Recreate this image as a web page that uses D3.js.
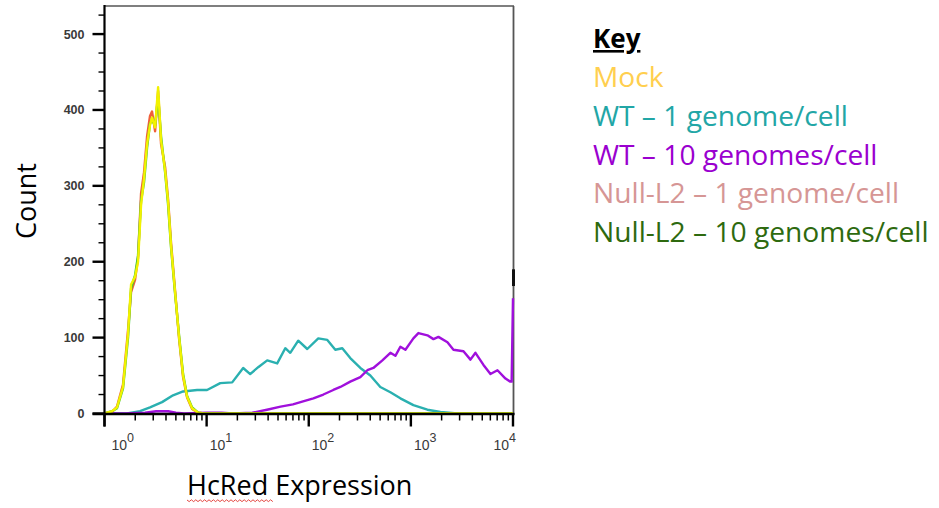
<!DOCTYPE html>
<html>
<head>
<meta charset="utf-8">
<script src="https://cdn.jsdelivr.net/npm/d3@7/dist/d3.min.js"></script>
<style>
  html, body { margin: 0; padding: 0; background: #fff; }
  svg { display: block; }
</style>
</head>
<body>
<svg id="chart" width="939" height="508"></svg>
<script>
// ---------- data ----------
const xTickExponents = [0, 1, 2, 3, 4];
const yTickValues = [0, 100, 200, 300, 400, 500];

const legendTitle = "Key";
const seriesNames = ["Mock", "WT \u2013 1 genome/cell", "WT \u2013 10 genomes/cell",
                     "Null-L2 \u2013 1 genome/cell", "Null-L2 \u2013 10 genomes/cell"];
const legendColors = ["#FFCF4F", "#22A6A6", "#9A00CF", "#D69695", "#2E6A0F"];
const lineColors   = ["#F2F200", "#2AB0B0", "#A010DC", "#F0603A", "#3CC43C"];

const mock = [[1,0],[1.184,3],[1.326,8],[1.518,35],[1.70,105],[1.82,170],[1.99,180],[2.13,200],
  [2.28,275],[2.44,310],[2.61,355],[2.79,380],[2.92,390],[3.13,377],[3.35,430],[3.58,360],
  [3.92,320],[4.19,280],[4.49,220],[4.91,160],[5.38,100],[5.88,50],[6.44,22],[7.21,7],
  [8.26,1],[9.45,0],[10000,0]];

const wt1 = [[1,0],[1.66,0],[2.23,3],[2.79,8],[3.66,15],[4.69,24],[5.88,29],[8.07,31],[10.1,31],
  [13.6,40],[17.8,41],[22.8,60],[26.7,52],[32,61],[39.2,70],[49.1,66],[58.9,86],[65.9,80],
  [78.9,96],[96.7,85],[124,99],[152,97],[182,84],[213,86],[255,73],[320,60],[401,50],
  [502,35],[630,28],[789,20],[1058,11],[1452,5],[1947,2],[2856,0],[10000,0]];

const wt10 = [[1,0],[1.6,0],[2.5,1],[3.2,3],[4.2,3],[5,1],[6,0],[10,1],[14,1],[18,0],[28,1],
  [39,5],[53,9],[70,12],[88,16],[111,20],[139,25],[174,31],[204,35],[255,42],[320,48],
  [375,57],[429,60],[526,70],[630,80],[705,76],[789,88],[884,84],[1058,99],[1185,106],
  [1452,103],[1663,98],[1862,101],[2281,94],[2612,84],[3273,82],[3832,71],[4290,80],
  [5139,64],[6016,52],[7045,57],[8440,46],[9400,42],[9700,42],[10000,152]];

const nullL2_1 = [[1,0],[1.184,2],[1.326,9],[1.518,38],[1.70,110],[1.82,160],[1.99,176],[2.13,205],
  [2.28,290],[2.44,318],[2.61,365],[2.79,392],[2.92,398],[3.13,372],[3.35,425],[3.58,355],
  [3.92,325],[4.19,283],[4.49,224],[4.91,162],[5.38,98],[5.88,48],[6.44,21],[7.21,6],
  [8.26,1],[9.45,0],[10000,0]];

const nullL2_10 = [[1,0],[1.184,3],[1.326,7],[1.518,33],[1.70,100],[1.82,165],[1.99,182],[2.13,208],
  [2.28,280],[2.44,305],[2.61,350],[2.79,382],[2.92,386],[3.13,380],[3.35,418],[3.58,365],
  [3.92,318],[4.19,276],[4.49,218],[4.91,158],[5.38,102],[5.88,52],[6.44,23],[7.21,8],
  [8.26,1],[9.45,0],[10000,0]];

// draw order: bottom to top
const drawOrder = [
  {data: wt1, color: lineColors[1]},
  {data: wt10, color: lineColors[2]},
  {data: nullL2_1, color: lineColors[3]},
  {data: nullL2_10, color: lineColors[4]},
  {data: mock, color: lineColors[0]}
];

// ---------- layout ----------
const svg = d3.select("#chart");
const pLeft = 104.5, pRight = 513, pTop = 6, pBottom = 413.5;

const x = d3.scaleLog().domain([1, 10000]).range([pLeft, pRight]);
const y = d3.scaleLinear().domain([0, 537]).range([pBottom, pTop]);

// frame (top and right, gray)
svg.append("line").attr("x1", pLeft).attr("x2", pRight + 1).attr("y1", pTop).attr("y2", pTop)
  .attr("stroke", "#555").attr("stroke-width", 1.6);
svg.append("line").attr("x1", pRight + 0.5).attr("x2", pRight + 0.5).attr("y1", pTop).attr("y2", pBottom + 1)
  .attr("stroke", "#555").attr("stroke-width", 1.8);
svg.append("rect").attr("x", pRight - 1).attr("y", y(190)).attr("width", 3).attr("height", y(168) - y(190))
  .attr("fill", "#111");

// curves
const line = d3.line().x(d => x(d[0])).y(d => y(d[1])).curve(d3.curveLinear);
const g = svg.append("g");
drawOrder.forEach(s => {
  g.append("path").attr("d", line(s.data)).attr("fill", "none")
    .attr("stroke", s.color).attr("stroke-width", 2.4).attr("stroke-linejoin", "round");
});

// y axis
const yMinor = d3.range(0, 526, 25);
const yAxis = svg.append("g");
yAxis.append("line").attr("x1", pLeft).attr("x2", pLeft).attr("y1", pTop - 1).attr("y2", pBottom + 13)
  .attr("stroke", "#000").attr("stroke-width", 2.2);
yMinor.forEach(v => {
  const major = v % 100 === 0;
  yAxis.append("line").attr("x1", pLeft - (major ? 12 : 6)).attr("x2", pLeft)
    .attr("y1", y(v)).attr("y2", y(v)).attr("stroke", "#000").attr("stroke-width", major ? 2.4 : 1.4);
});
yTickValues.forEach(v => {
  yAxis.append("text").attr("x", pLeft - 20).attr("y", y(v) + 4.5).attr("text-anchor", "end")
    .attr("font-family", "Liberation Sans, Arial, sans-serif").attr("font-size", 12.5)
    .attr("font-weight", "bold").attr("fill", "#3a3a3a").text(v);
});

// x axis
const xAxis = svg.append("g");
xAxis.append("line").attr("x1", pLeft - 12).attr("x2", pRight + 1.5).attr("y1", pBottom + 0.5).attr("y2", pBottom + 0.5)
  .attr("stroke", "#000").attr("stroke-width", 2.4);
const xMinor = [];
for (let e = 0; e < 4; e++) for (let m = 2; m <= 9; m++) xMinor.push(m * Math.pow(10, e));
xMinor.forEach(v => {
  xAxis.append("line").attr("x1", x(v)).attr("x2", x(v)).attr("y1", pBottom).attr("y2", pBottom + 7)
    .attr("stroke", "#000").attr("stroke-width", 1.5);
});
xTickExponents.forEach(e => {
  const v = Math.pow(10, e);
  xAxis.append("line").attr("x1", x(v)).attr("x2", x(v)).attr("y1", pBottom).attr("y2", pBottom + 13)
    .attr("stroke", "#000").attr("stroke-width", 2.4);
});
xTickExponents.forEach((e, i) => {
  const v = Math.pow(10, e);
  const last = i === xTickExponents.length - 1;
  const t = xAxis.append("text")
    .attr("x", last ? x(v) + 3 : x(v) + (i === 0 ? 7 : 3))
    .attr("y", 450).attr("text-anchor", last ? "end" : "start")
    .attr("font-family", "Liberation Sans, Arial, sans-serif").attr("font-size", 14)
    .attr("fill", "#3a3a3a");
  t.append("tspan").text("10");
  t.append("tspan").attr("dy", -8).attr("font-size", 12.5).text(e);
});

// axis titles
svg.append("text").attr("transform", "translate(36,201) rotate(-90)").attr("text-anchor", "middle")
  .attr("font-family", "Open Sans, sans-serif").attr("font-size", 27).attr("fill", "#000").text("Count");
svg.append("text").attr("x", 187).attr("y", 495).attr("text-anchor", "start")
  .attr("font-family", "Open Sans, sans-serif").attr("font-size", 27).attr("fill", "#000").text("HcRed Expression");

// spell-check style squiggle under "HcRed"
(function(){
  const x0 = 187, x1 = 274, yy = 500, step = 2.2;
  let d = `M${x0},${yy}`;
  let k = 0;
  for (let xx = x0 + step; xx <= x1; xx += step, k++) d += `L${xx},${yy + (k % 2 === 0 ? 1.6 : -0.2)}`;
  svg.append("path").attr("d", d).attr("fill", "none").attr("stroke", "#E0302A").attr("stroke-width", 0.9);
})();

// legend
const lx = 593;
svg.append("text").attr("x", lx).attr("y", 48).attr("font-family", "Open Sans, sans-serif")
  .attr("font-size", 26).attr("font-weight", "bold").attr("fill", "#000")
  .attr("text-decoration", "underline").text(legendTitle);
seriesNames.forEach((name, i) => {
  svg.append("text").attr("x", lx).attr("y", 87 + i * 38.8).attr("font-family", "Open Sans, sans-serif")
    .attr("font-size", 28.2).attr("fill", legendColors[i]).text(name);
});
</script>
</body>
</html>
